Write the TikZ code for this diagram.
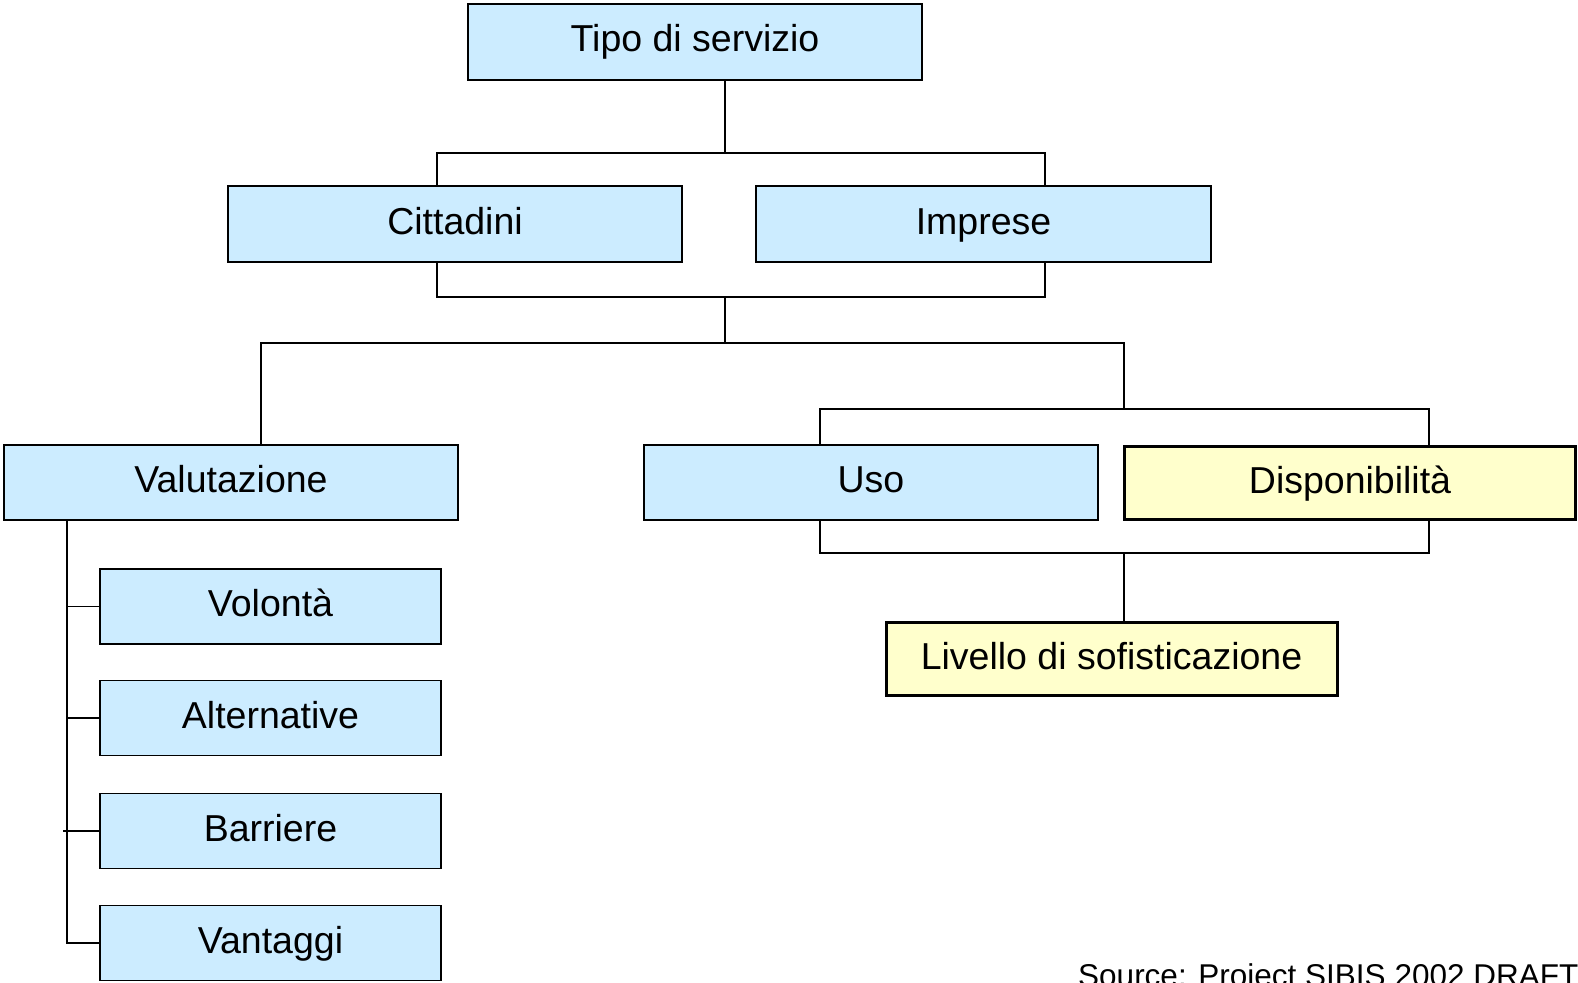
\documentclass[tikz,border=0pt]{standalone}
\usepackage{fontspec}
\setmainfont{Liberation Sans}
\definecolor{lblue}{HTML}{CCECFF}
\definecolor{lyel}{HTML}{FFFFCC}
\begin{document}
\begin{tikzpicture}[x={(1pt,0pt)},y={(0pt,-1pt)},
  box/.style={draw=black, line width=1.5pt, fill=lblue, inner sep=0pt,
    minimum height=76pt, minimum width=454pt, font=\fontsize{37.5}{45}\selectfont,
    text height=27pt, text depth=7pt},
  ybox/.style={box, fill=lyel, line width=3pt, minimum width=451pt, minimum height=73pt},
  sbox/.style={box, minimum width=341pt, minimum height=75pt},
  conn/.style={draw=black, line width=1.5pt}]
\useasboundingbox (0,0) rectangle (1578,982);
\node[box] (Tipo) at (695,42) {Tipo di servizio};
\node[box] (Cit) at (455,224) {Cittadini};
\node[box, minimum width=455pt] (Imp) at (983.5,224) {Imprese};
\node[box, minimum height=75pt] (Val) at (231,482.5) {Valutazione};
\node[box, minimum height=75pt] (Uso) at (871,482.5) {Uso};
\node[ybox] (Disp) at (1350,483) {Disponibilità};
\node[ybox] (Liv) at (1111.5,659) {Livello di sofisticazione};
\node[sbox] (Vol) at (270.5,606.5) {Volontà};
\node[sbox] (Alt) at (270.5,718) {Alternative};
\node[sbox] (Bar) at (270.5,831) {Barriere};
\node[sbox] (Vant) at (270.5,943) {Vantaggi};
\node[anchor=base west, inner sep=0pt, font=\fontsize{31.5}{38}\selectfont] (src) at (1078,986) {Source: Project SIBIS 2002 DRAFT};
\coordinate (t1) at (725,153);
\coordinate (cL) at (437,153);
\coordinate (cR) at (1045,153);
\coordinate (bL) at (437,297);
\coordinate (bR) at (1045,297);
\coordinate (b1) at (725,297);
\coordinate (b2) at (725,343);
\coordinate (vL) at (261,343);
\coordinate (vR) at (1124,343);
\coordinate (u1) at (1124,409);
\coordinate (uL) at (820,409);
\coordinate (uR) at (1429,409);
\coordinate (dL) at (820,553);
\coordinate (dR) at (1429,553);
\coordinate (d1) at (1124,553);
\coordinate (lv) at (67,939);
\coordinate (bt) at (63,831);
\draw[conn] (Tipo.south -| t1) -- (t1);
\draw[conn] (Cit.north -| cL) -- (cL) -- (cR) -- (Imp.north -| cR);
\draw[conn] (Cit.south -| bL) -- (bL) -- (bR) -- (Imp.south -| bR);
\draw[conn] (b1) -- (b2);
\draw[conn] (Val.north -| vL) -- (vL) -- (vR) -- (u1);
\draw[conn] (Uso.north -| uL) -- (uL) -- (uR) -- (Disp.north -| uR);
\draw[conn] (Uso.south -| dL) -- (dL) -- (dR) -- (Disp.south -| dR);
\draw[conn] (d1) -- (Liv.north -| d1);
\draw[conn] (Val.south -| lv) -- (lv |- Vant.west) -- (Vant.west);
\draw[conn] (Vol.west -| lv) -- (Vol.west);
\draw[conn] (Alt.west -| lv) -- (Alt.west);
\draw[conn] (bt) -- (Bar.west);
\end{tikzpicture}
\end{document}
